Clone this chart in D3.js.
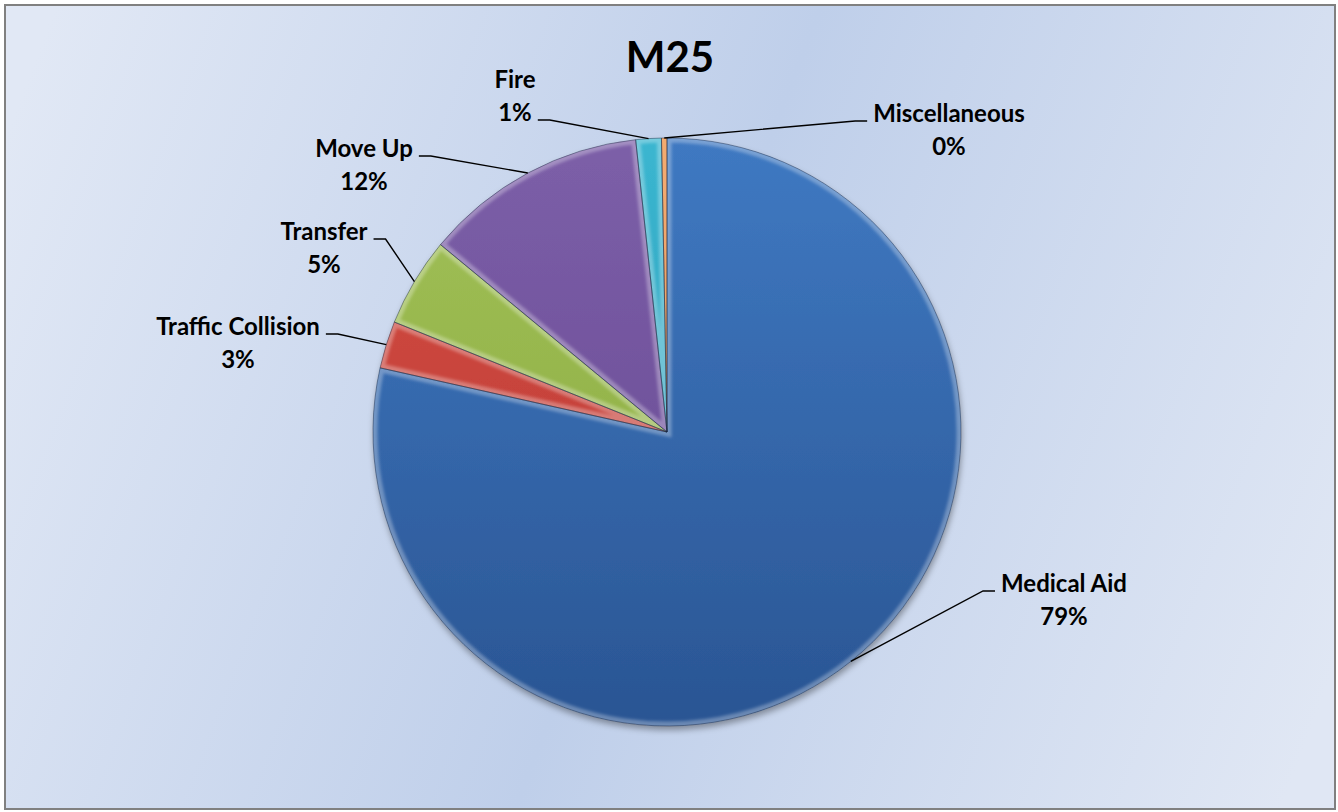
<!DOCTYPE html>
<html lang="en">
<head>
  <meta charset="UTF-8">
  <title>M25</title>
  <style>
    html, body { margin: 0; padding: 0; background: #ffffff; }
    svg { display: block; }
  </style>
</head>
<body>
  <div id="chart"></div>
  <script src="https://d3js.org/d3.v7.min.js"></script>
  <script>
    // data (counts per 1000 calls)
    const categories = ["Medical Aid", "Traffic Collision", "Transfer", "Move Up", "Fire", "Miscellaneous"];
    const counts = [785, 26, 49, 123, 14, 3];
    const title = "M25";

    // slice colours: [light, dark]
    const palette = [
      ["#3f79c2", "#2a5593"],
      ["#d64d45", "#b5372f"],
      ["#a2c157", "#86a73f"],
      ["#7c5fa8", "#654690"],
      ["#3bb6d0", "#2493af"],
      ["#ef8732", "#d66718"]
    ];

    // hand placed labels: centre x, first baseline, which line the leader hits
    const labelLayout = [
      { x: 1064, y: 592, line: 0, side: "right" },
      { x: 238,  y: 335, line: 0, side: "left" },
      { x: 324,  y: 240, line: 0, side: "left" },
      { x: 364,  y: 157, line: 0, side: "left" },
      { x: 515,  y: 88,  line: 1, side: "left" },
      { x: 949,  y: 122, line: 0, side: "right" }
    ];

    const width = 1338, height = 812;
    const cx = 667, cy = 432, radius = 294;
    const lineGap = 33;

    const data = categories.map((c, i) => ({ name: c, value: counts[i], idx: i }));
    const total = d3.sum(counts);

    const svg = d3.select("#chart").append("svg")
      .attr("width", width)
      .attr("height", height)
      .attr("viewBox", [0, 0, width, height]);

    const defs = svg.append("defs");

    const bg = defs.append("linearGradient")
      .attr("id", "bg")
      .attr("gradientUnits", "userSpaceOnUse")
      .attr("x1", 0).attr("y1", 150)
      .attr("x2", width).attr("y2", 660);
    bg.append("stop").attr("offset", 0).attr("stop-color", "#e1e8f5");
    bg.append("stop").attr("offset", 0.5).attr("stop-color", "#bfcfea");
    bg.append("stop").attr("offset", 1).attr("stop-color", "#e0e7f4");

    palette.forEach((p, i) => {
      const g = defs.append("linearGradient")
        .attr("id", "fill" + i)
        .attr("gradientUnits", "userSpaceOnUse")
        .attr("x1", 0).attr("y1", -radius)
        .attr("x2", 0).attr("y2", radius);
      g.append("stop").attr("offset", 0).attr("stop-color", p[0]);
      g.append("stop").attr("offset", 1).attr("stop-color", p[1]);
    });

    const shadow = defs.append("filter").attr("id", "shadow")
      .attr("x", "-10%").attr("y", "-10%").attr("width", "120%").attr("height", "125%");
    shadow.append("feDropShadow")
      .attr("dx", 1).attr("dy", 4).attr("stdDeviation", 3)
      .attr("flood-color", "#000").attr("flood-opacity", 0.35);

    const soft = defs.append("filter").attr("id", "soft");
    soft.append("feGaussianBlur").attr("stdDeviation", 1.6);

    // background + frame
    svg.append("rect")
      .attr("x", 5).attr("y", 5)
      .attr("width", 1330).attr("height", 804)
      .attr("fill", "url(#bg)")
      .attr("stroke", "#808080")
      .attr("stroke-width", 2);

    svg.append("text")
      .attr("x", 670)
      .attr("y", 72)
      .attr("text-anchor", "middle")
      .attr("font-family", "Lato, 'Open Sans', sans-serif")
      .attr("font-weight", "bold")
      .attr("font-size", 42)
      .attr("fill", "#000")
      .text(title);

    const pie = d3.pie().sort(null).value(d => d.value);
    const arcs = pie(data);
    const arc = d3.arc().innerRadius(0).outerRadius(radius);
    const rim = d3.arc().innerRadius(radius).outerRadius(radius);

    const pieG = svg.append("g").attr("transform", `translate(${cx},${cy})`);

    // shadowed base
    pieG.append("g")
      .attr("filter", "url(#shadow)")
      .selectAll("path")
      .data(arcs)
      .join("path")
      .attr("d", arc)
      .attr("fill", d => `url(#fill${d.data.idx})`);

    // bevel highlight, clipped inside each slice
    arcs.forEach(d => {
      defs.append("clipPath").attr("id", "clip" + d.data.idx)
        .append("path").attr("d", arc(d));
    });

    pieG.append("g")
      .selectAll("path")
      .data(arcs)
      .join("path")
      .attr("d", arc)
      .attr("clip-path", d => `url(#clip${d.data.idx})`)
      .attr("fill", "none")
      .attr("stroke", "#ffffff")
      .attr("stroke-opacity", 0.3)
      .attr("stroke-width", 9)
      .attr("filter", "url(#soft)");

    // thin edges
    pieG.append("g")
      .selectAll("path")
      .data(arcs)
      .join("path")
      .attr("d", arc)
      .attr("fill", "none")
      .attr("stroke", "#1a2840")
      .attr("stroke-opacity", 0.55)
      .attr("stroke-width", 0.8)
      .attr("stroke-linejoin", "round");

    // labels
    const labels = svg.append("g")
      .attr("font-family", "Lato, 'Open Sans', sans-serif")
      .attr("font-weight", "bold")
      .attr("font-size", 24)
      .attr("fill", "#000")
      .attr("text-anchor", "middle");

    const leaders = svg.append("g")
      .attr("fill", "none")
      .attr("stroke", "#000")
      .attr("stroke-width", 1.4);

    arcs.forEach(d => {
      const lay = labelLayout[d.data.idx];
      const pct = Math.round(d.data.value / total * 100) + "%";
      const lines = [d.data.name, pct];

      const t = labels.append("text");
      const spans = lines.map((s, i) => t.append("tspan")
        .attr("x", lay.x)
        .attr("y", lay.y + i * lineGap)
        .text(s));

      const hit = spans[lay.line].node();
      const w = hit.getComputedTextLength();
      const ly = lay.y + lay.line * lineGap - 1;
      const dir = lay.side === "left" ? 1 : -1;
      const edge = lay.x + dir * w / 2;
      const p0 = [edge + dir * 6, ly];
      const p1 = [edge + dir * 18, ly];
      const c = rim.centroid(d);
      const p2 = [cx + c[0], cy + c[1]];

      leaders.append("path")
        .attr("d", d3.line()([p0, p1, p2]));
    });
  </script>
</body>
</html>
